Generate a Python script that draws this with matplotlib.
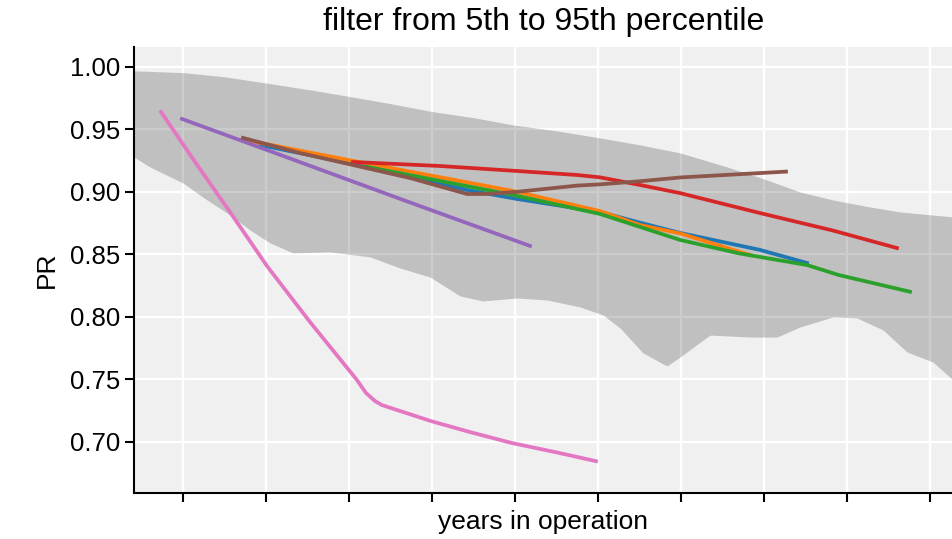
import numpy as np
import matplotlib
matplotlib.use("Agg")
from matplotlib import pyplot as plt

plt.rcParams['font.family'] = ['Liberation Sans', 'DejaVu Sans']

# percentile band (5th / 95th), sampled along the years axis
band_x_hi = [0.41, 1.0, 1.506, 2.012, 2.53, 3.012, 3.518, 4.0, 4.518, 4.976, 5.506,
             6.024, 6.506, 6.988, 7.554, 8.036, 8.434, 8.831, 9.277, 9.639, 10.277]
band_hi = [0.9969, 0.9955, 0.9921, 0.987, 0.9817, 0.9763, 0.9704, 0.9643, 0.9592, 0.9536, 0.9488,
           0.9432, 0.9376, 0.9312, 0.92, 0.9095, 0.8999, 0.8935, 0.8879, 0.8839, 0.8799]
band_x_lo = [0.41, 0.602, 1.0, 1.289, 1.566, 1.807, 2.048, 2.325, 2.771, 3.253, 3.614, 3.976,
             4.337, 4.614, 5.024, 5.386, 5.783, 6.06, 6.265, 6.542, 6.831, 6.988, 7.349,
             7.831, 8.157, 8.434, 8.831, 9.12, 9.434, 9.723, 10.036, 10.277]
band_lo = [0.9279, 0.9199, 0.9071, 0.8935, 0.8815, 0.8695, 0.8591, 0.8511, 0.8519, 0.8479, 0.839, 0.8318,
           0.8166, 0.8126, 0.815, 0.8134, 0.8078, 0.8014, 0.791, 0.771, 0.7605, 0.7677, 0.7853,
           0.7837, 0.7837, 0.7918, 0.7998, 0.799, 0.7894, 0.7717, 0.7637, 0.7493]

# individual systems
s1_x = [1.928, 3.048, 4.422, 5.024, 6.024, 6.506, 6.988, 7.952, 8.518]
s1_y = [0.9375, 0.9224, 0.9015, 0.8943, 0.8839, 0.8753, 0.8671, 0.8535, 0.843]
s2_x = [1.807, 3.048, 4.976, 6.024, 6.506, 6.988, 7.831]
s2_y = [0.9408, 0.9248, 0.9007, 0.8846, 0.8734, 0.8667, 0.8494]
s3_x = [3.217, 4.976, 6.024, 6.506, 6.988, 7.7, 8.518, 8.9, 9.759]
s3_y = [0.92, 0.8975, 0.8823, 0.8719, 0.8615, 0.8507, 0.8414, 0.8334, 0.82]
s4_x = [3.048, 4.096, 5.024, 5.747, 6.024, 6.506, 6.988, 7.952, 8.831, 9.602]
s4_y = [0.9239, 0.9207, 0.9167, 0.9135, 0.9116, 0.9055, 0.899, 0.883, 0.869, 0.855]
s5_x = [0.988, 2.41, 3.735, 5.181]
s5_y = [0.9584, 0.9238, 0.8915, 0.8567]
s6_x = [1.723, 2.41, 3.735, 4.422, 4.663, 5.024, 5.747, 6.024, 6.506, 6.988, 8.265]
s6_y = [0.9432, 0.9311, 0.9111, 0.8983, 0.8983, 0.9, 0.905, 0.906, 0.9085, 0.9115, 0.9162]
s7_x = [0.735, 1.145, 1.566, 2.012, 2.53, 3.096, 3.205, 3.313, 3.398, 3.988, 4.458, 4.964, 5.482, 5.976]
s7_y = [0.964, 0.924, 0.8839, 0.8406, 0.7958, 0.7493, 0.7389, 0.7325, 0.7292, 0.7164, 0.7076, 0.6988, 0.6916, 0.6843]

series = [(s1_x, s1_y), (s2_x, s2_y), (s3_x, s3_y), (s4_x, s4_y),
          (s5_x, s5_y), (s6_x, s6_y), (s7_x, s7_y)]

fig = plt.figure(figsize=(9.53, 5.39), dpi=100)
ax = fig.add_axes([134/953, 1-493/539, 1-134/953, (493-47)/539])
ax.set_facecolor('#f0f0f0')
ax.set_axisbelow(True)
ax.grid(True, color='white', linewidth=1.7)

# band: both edges on one common x grid
bx = np.linspace(band_x_lo[0], band_x_lo[-1], 400)
ax.fill_between(bx, np.interp(bx, band_x_lo, band_lo), np.interp(bx, band_x_hi, band_hi),
                color='k', alpha=0.2, linewidth=0)

for i, (x, y) in enumerate(series):
    ax.plot(x, y, color='C%d' % i, linewidth=2.7)

ax.set_xlim(0.41, 10.277)
ax.set_ylim(0.6588, 1.016)
ax.set_xticks(np.arange(1, 11))
ax.set_xticklabels([])
ax.set_yticks([0.70, 0.75, 0.80, 0.85, 0.90, 0.95, 1.00])
ax.set_yticklabels(['%.2f' % v for v in ax.get_yticks()])
for s in ['top', 'right']:
    ax.spines[s].set_visible(False)
for s in ['left', 'bottom']:
    ax.spines[s].set_linewidth(1.5)
ax.tick_params(axis='both', direction='out', length=6.5, width=1.5, labelsize=18.5)

ax.set_title('filter from 5th to 95th percentile', fontsize=23, pad=12)
ax.set_xlabel('years in operation', fontsize=19, labelpad=2)
ax.set_ylabel('PR', fontsize=19, labelpad=8)

fig.savefig('out.png', dpi=100)
